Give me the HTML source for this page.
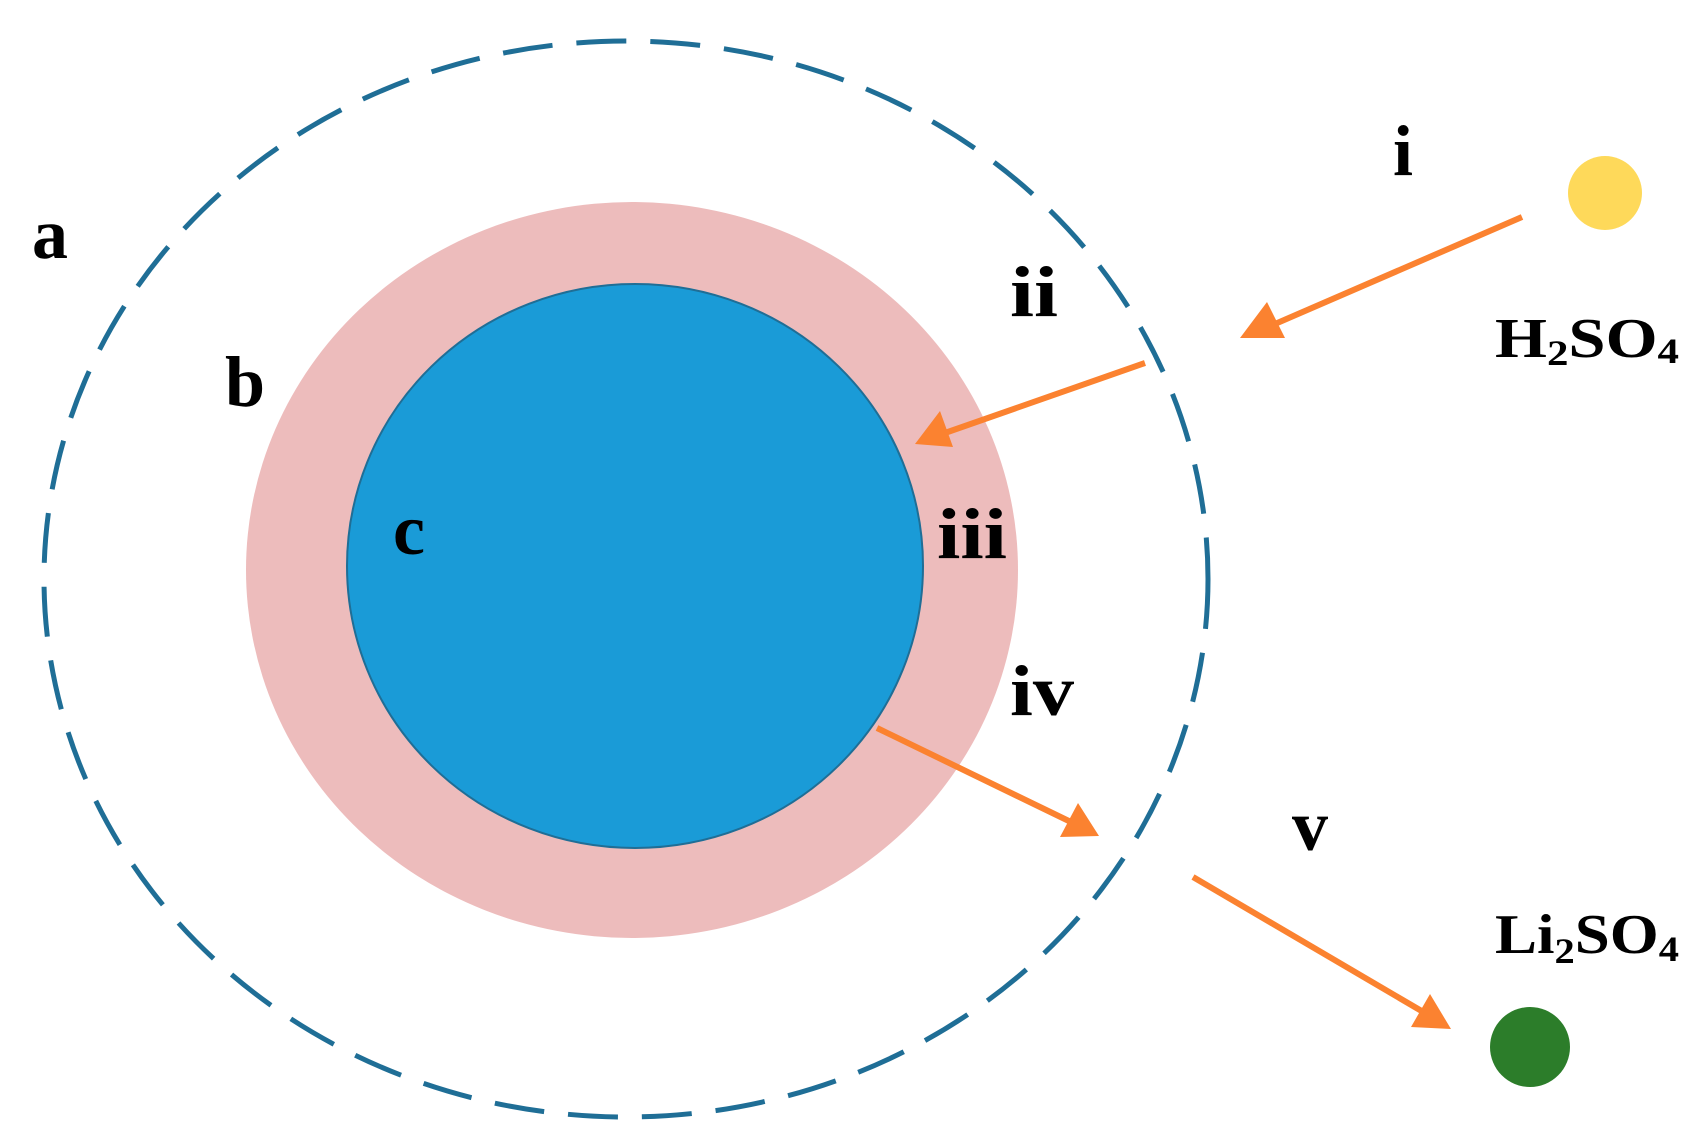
<!DOCTYPE html>
<html><head><meta charset="utf-8"><style>
html,body{margin:0;padding:0;background:#fff}
svg{display:block}
text{font-family:"Liberation Serif","Times New Roman",serif;font-weight:bold;fill:#000}
</style></head><body>
<svg width="1689" height="1141" viewBox="0 0 1689 1141" xmlns="http://www.w3.org/2000/svg">
<ellipse cx="626" cy="579" rx="582" ry="538" fill="none" stroke="#1f6e96" stroke-width="5" stroke-dasharray="50 24"/>
<ellipse cx="632" cy="570" rx="386" ry="368" fill="#edbcbc"/>
<ellipse cx="635" cy="566" rx="288" ry="282" fill="#1a9bd7" stroke="#1f6e96" stroke-width="2"/>
<circle cx="1605" cy="193" r="37" fill="#fed95a"/>
<circle cx="1530" cy="1047" r="40" fill="#2c7d2a"/>
<g stroke="#fb8230" stroke-width="6" fill="#fb8230">
<line x1="1522" y1="217" x2="1268" y2="327"/>
<polygon points="1240,338 1267,302 1285,338" stroke="none"/>
<line x1="1145" y1="363" x2="942" y2="434"/>
<polygon points="915,444 940,411 953,447" stroke="none"/>
<line x1="877" y1="728" x2="1073" y2="823"/>
<polygon points="1099,836 1060,837 1078,803" stroke="none"/>
<line x1="1193" y1="877" x2="1425" y2="1013"/>
<polygon points="1451,1029 1411,1027 1430,994" stroke="none"/>
</g>
<g font-size="72">
<text x="32" y="258">a</text>
<text x="1393" y="175">i</text>
<text x="1010" y="316" textLength="48" lengthAdjust="spacingAndGlyphs">ii</text>
<text x="225" y="406">b</text>
<text x="393" y="554">c</text>
<text x="937" y="558" textLength="70" lengthAdjust="spacingAndGlyphs">iii</text>
<text x="1010" y="715" textLength="64" lengthAdjust="spacingAndGlyphs">iv</text>
<text x="1292" y="850">v</text>
</g>
<g font-size="56">
<text x="1495" y="357" textLength="184" lengthAdjust="spacingAndGlyphs">H<tspan font-size="36" dy="8">2</tspan><tspan dy="-8">SO</tspan><tspan font-size="36" dy="6">4</tspan></text>
<text x="1495" y="953" textLength="184" lengthAdjust="spacingAndGlyphs">Li<tspan font-size="36" dy="10">2</tspan><tspan dy="-10">SO</tspan><tspan font-size="36" dy="8">4</tspan></text>
</g>
</svg>
</body></html>
